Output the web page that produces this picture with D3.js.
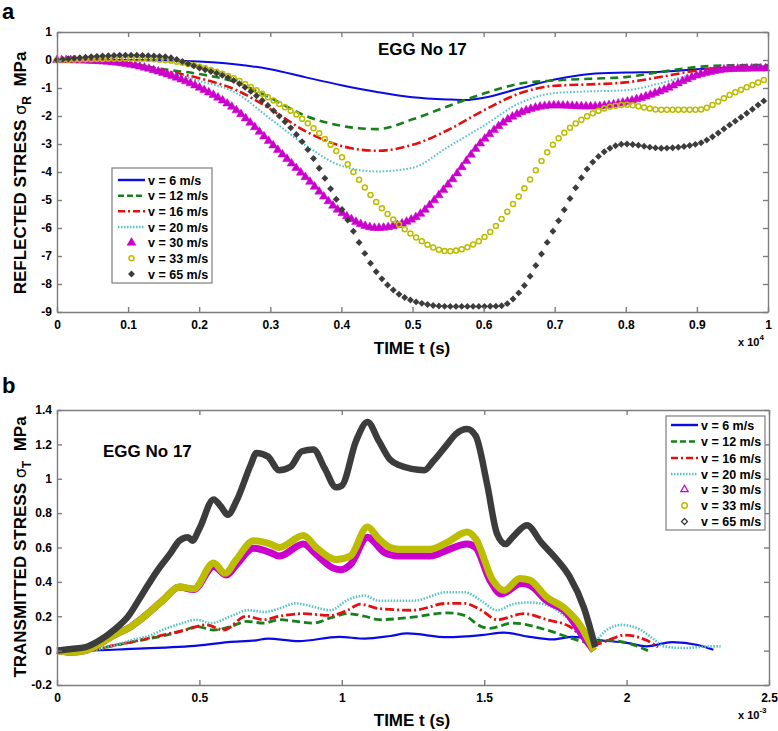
<!DOCTYPE html>
<html><head><meta charset="utf-8">
<script src="https://cdn.jsdelivr.net/npm/d3@7"></script>
<style>
body{margin:0;background:#fff}
svg{display:block}
text{font-family:"Liberation Sans",Arial,Helvetica,sans-serif;}
</style>
</head><body>
<svg id="c" width="778" height="731"></svg>
<script>
// ---------- labels ----------
const seriesLabels = ["v = 6 m/s","v = 12 m/s","v = 16 m/s","v = 20 m/s","v = 30 m/s","v = 33 m/s","v = 65 m/s"];
const aXTicks = [0,0.1,0.2,0.3,0.4,0.5,0.6,0.7,0.8,0.9,1];
const aYTicks = [1,0,-1,-2,-3,-4,-5,-6,-7,-8,-9];
const bXTicks = [0,0.5,1,1.5,2,2.5];
const bYTicks = [1.4,1.2,1,0.8,0.6,0.4,0.2,0,-0.2];

// ---------- panel a: reflected stress (t in 1e-4 s, MPa) ----------
const refl6  = [[0,0],[0.1,0],[0.2,-0.05],[0.25,-0.15],[0.3,-0.33],[0.35,-0.62],[0.4,-0.9],[0.45,-1.14],[0.5,-1.33],[0.55,-1.41],[0.575,-1.43],[0.6,-1.35],[0.65,-1.02],[0.7,-0.7],[0.75,-0.5],[0.8,-0.45],[0.85,-0.42],[0.9,-0.33],[0.95,-0.27],[1,-0.24]];
const refl12 = [[0,0],[0.05,-0.02],[0.1,-0.12],[0.15,-0.33],[0.2,-0.5],[0.25,-0.78],[0.3,-1.35],[0.35,-2.0],[0.4,-2.35],[0.45,-2.47],[0.5,-2.12],[0.55,-1.65],[0.6,-1.2],[0.65,-0.85],[0.7,-0.73],[0.75,-0.67],[0.8,-0.61],[0.85,-0.42],[0.9,-0.25],[0.95,-0.19],[1,-0.18]];
const refl16 = [[0,0],[0.05,-0.02],[0.1,-0.12],[0.15,-0.38],[0.2,-0.65],[0.25,-1.05],[0.3,-1.75],[0.35,-2.55],[0.4,-3.07],[0.45,-3.24],[0.5,-3.03],[0.55,-2.5],[0.6,-1.8],[0.65,-1.2],[0.7,-0.92],[0.75,-0.87],[0.8,-0.8],[0.85,-0.6],[0.9,-0.38],[0.95,-0.27],[1,-0.24]];
const refl20 = [[0,0],[0.05,-0.02],[0.1,-0.15],[0.15,-0.4],[0.2,-0.75],[0.25,-1.15],[0.3,-2.1],[0.35,-3.05],[0.4,-3.78],[0.45,-3.98],[0.5,-3.85],[0.55,-3.1],[0.6,-2.35],[0.65,-1.55],[0.7,-1.18],[0.75,-1.12],[0.8,-1.08],[0.85,-0.82],[0.9,-0.48],[0.95,-0.3],[1,-0.24]];
const refl30 = [[0,0],[0.05,-0.03],[0.1,-0.15],[0.15,-0.47],[0.2,-0.98],[0.25,-1.75],[0.3,-2.95],[0.35,-4.2],[0.4,-5.45],[0.45,-6.0],[0.5,-5.68],[0.55,-4.45],[0.6,-2.85],[0.65,-1.9],[0.7,-1.62],[0.75,-1.66],[0.8,-1.5],[0.85,-1.1],[0.9,-0.55],[0.95,-0.32],[1,-0.3]];
const refl33 = [[0,0],[0.05,0.03],[0.1,0.05],[0.15,0.0],[0.2,-0.24],[0.25,-0.67],[0.3,-1.38],[0.35,-2.2],[0.4,-3.45],[0.45,-5.1],[0.5,-6.25],[0.55,-6.83],[0.6,-6.35],[0.65,-4.85],[0.7,-2.95],[0.75,-1.95],[0.8,-1.6],[0.85,-1.78],[0.9,-1.78],[0.95,-1.2],[1,-0.65]];
const refl65 = [[0,0],[0.05,0.12],[0.1,0.17],[0.15,0.12],[0.2,-0.28],[0.25,-0.75],[0.3,-1.7],[0.35,-3.1],[0.4,-5.3],[0.45,-7.6],[0.5,-8.6],[0.55,-8.8],[0.6,-8.8],[0.625,-8.78],[0.65,-8.3],[0.7,-6.0],[0.75,-3.75],[0.8,-3.0],[0.85,-3.15],[0.9,-3.0],[0.95,-2.25],[1,-1.35]];

// ---------- panel b: transmitted stress (t in 1e-3 s, MPa) ----------
const trans6  = [[0,0],[0.1,0],[0.26,0.01],[0.5,0.03],[0.6,0.05],[0.7,0.06],[0.74,0.07],[0.85,0.055],[0.99,0.08],[1.08,0.07],[1.17,0.085],[1.23,0.1],[1.37,0.078],[1.49,0.09],[1.57,0.105],[1.66,0.08],[1.74,0.065],[1.81,0.08],[1.91,0.06],[2.0,0.045],[2.07,0.025],[2.16,0.05],[2.25,0.033],[2.305,0.005]];
const trans12 = [[0,0],[0.1,0],[0.2,0.03],[0.26,0.05],[0.37,0.085],[0.45,0.12],[0.49,0.14],[0.55,0.12],[0.61,0.14],[0.665,0.17],[0.725,0.16],[0.78,0.18],[0.84,0.17],[0.9,0.16],[0.96,0.19],[1.02,0.215],[1.08,0.2],[1.13,0.18],[1.25,0.195],[1.37,0.22],[1.43,0.205],[1.49,0.14],[1.52,0.13],[1.6,0.16],[1.72,0.12],[1.81,0.07],[1.86,0.05],[1.93,0.06],[1.99,0.05],[2.075,0.0]];
const trans16 = [[0,0],[0.1,0],[0.2,0.03],[0.26,0.05],[0.37,0.09],[0.45,0.12],[0.525,0.15],[0.585,0.12],[0.665,0.2],[0.725,0.18],[0.78,0.2],[0.865,0.215],[0.96,0.205],[1.02,0.235],[1.065,0.27],[1.13,0.245],[1.25,0.235],[1.37,0.275],[1.43,0.275],[1.49,0.235],[1.545,0.18],[1.64,0.215],[1.72,0.18],[1.8,0.14],[1.86,0.06],[1.895,0.04],[1.95,0.07],[1.99,0.09],[2.07,0.06],[2.11,0.02]];
const trans20 = [[0,0],[0.1,0],[0.2,0.03],[0.26,0.06],[0.33,0.09],[0.37,0.12],[0.44,0.16],[0.49,0.18],[0.54,0.16],[0.61,0.2],[0.67,0.235],[0.73,0.225],[0.78,0.245],[0.84,0.275],[0.9,0.255],[0.96,0.235],[1.02,0.295],[1.08,0.32],[1.13,0.29],[1.25,0.29],[1.37,0.34],[1.43,0.34],[1.49,0.29],[1.545,0.235],[1.6,0.27],[1.66,0.28],[1.72,0.265],[1.78,0.205],[1.84,0.12],[1.885,0.06],[1.93,0.12],[1.98,0.15],[2.05,0.12],[2.1,0.06],[2.13,0.025],[2.2,0.015],[2.3,0.025],[2.33,0.025]];
const trans30 = [[0,0],[0.05,-0.01],[0.1,0],[0.15,0.04],[0.2,0.09],[0.26,0.14],[0.3,0.19],[0.37,0.29],[0.43,0.37],[0.48,0.355],[0.55,0.49],[0.595,0.44],[0.63,0.5],[0.69,0.595],[0.75,0.57],[0.78,0.55],[0.865,0.62],[0.91,0.56],[0.97,0.48],[0.995,0.47],[1.03,0.5],[1.09,0.66],[1.15,0.57],[1.2,0.55],[1.31,0.55],[1.37,0.585],[1.44,0.62],[1.47,0.6],[1.52,0.41],[1.56,0.33],[1.63,0.39],[1.66,0.38],[1.72,0.29],[1.79,0.22],[1.84,0.1],[1.885,0.0]];
const trans33 = [[0,0],[0.05,-0.01],[0.1,0],[0.15,0.04],[0.2,0.09],[0.26,0.14],[0.3,0.19],[0.37,0.29],[0.43,0.37],[0.48,0.36],[0.55,0.51],[0.59,0.45],[0.63,0.53],[0.69,0.64],[0.75,0.62],[0.78,0.6],[0.865,0.67],[0.91,0.6],[0.98,0.53],[1.03,0.55],[1.09,0.72],[1.13,0.65],[1.17,0.6],[1.2,0.59],[1.31,0.59],[1.37,0.63],[1.44,0.69],[1.47,0.65],[1.53,0.41],[1.57,0.35],[1.625,0.42],[1.66,0.41],[1.72,0.31],[1.78,0.25],[1.84,0.14],[1.885,0.0]];
const trans65 = [[0,0],[0.05,0.01],[0.1,0.02],[0.15,0.06],[0.2,0.12],[0.25,0.2],[0.3,0.33],[0.35,0.46],[0.4,0.57],[0.43,0.64],[0.46,0.66],[0.475,0.64],[0.5,0.71],[0.55,0.88],[0.575,0.84],[0.6,0.79],[0.63,0.87],[0.68,1.08],[0.7,1.15],[0.74,1.13],[0.78,1.05],[0.82,1.07],[0.86,1.16],[0.9,1.17],[0.94,1.06],[0.98,0.95],[1.0,0.96],[1.05,1.22],[1.09,1.33],[1.13,1.22],[1.17,1.11],[1.2,1.08],[1.29,1.05],[1.32,1.1],[1.37,1.2],[1.4,1.26],[1.44,1.29],[1.47,1.25],[1.51,0.97],[1.545,0.68],[1.575,0.62],[1.6,0.66],[1.65,0.73],[1.7,0.63],[1.755,0.53],[1.8,0.43],[1.85,0.25],[1.89,0.02]];

// ---------- styles ----------
const COL = {b:"#0a0ae6", g:"#16801c", r:"#e41010", c:"#55c2c8", m:"#cc00cc", y:"#bcbc00", k:"#3c3c3c"};
const AXC = "#7d7d7d";

const svg = d3.select("#c");
const FONT = '"Liberation Sans",Arial,sans-serif';

function sampleAlong(node, x0, x1, step){
  const L = node.getTotalLength();
  const pts = [];
  for(let l=0;l<=L;l+=0.4) pts.push(node.getPointAtLength(l));
  pts.push(node.getPointAtLength(L));
  const out=[]; let j=0;
  for(let x=x0; x<=x1+0.01; x+=step){
    while(j<pts.length-2 && pts[j+1].x < x) j++;
    const a=pts[j], b=pts[j+1]||pts[j];
    let f = (b.x===a.x)?0:(x-a.x)/(b.x-a.x); f=Math.max(0,Math.min(1,f));
    out.push([x, a.y+(b.y-a.y)*f]);
  }
  return out;
}

function drawAxes(g, x, y, xt, yt, xfmt, yfmt){
  const [l,r]=x.range(), [b,t]=y.range();
  const ax = g.append("g").attr("transform",`translate(0,${b})`)
    .call(d3.axisBottom(x).tickValues(xt).tickFormat(xfmt).tickSizeInner(-5).tickSizeOuter(0).tickPadding(8));
  const at = g.append("g").attr("transform",`translate(0,${t})`)
    .call(d3.axisTop(x).tickValues(xt).tickFormat("").tickSizeInner(-5).tickSizeOuter(0));
  const al = g.append("g").attr("transform",`translate(${l},0)`)
    .call(d3.axisLeft(y).tickValues(yt).tickFormat(yfmt).tickSizeInner(-5).tickSizeOuter(0).tickPadding(5));
  const ar = g.append("g").attr("transform",`translate(${r},0)`)
    .call(d3.axisRight(y).tickValues(yt).tickFormat("").tickSizeInner(-5).tickSizeOuter(0));
  [ax,at,al,ar].forEach(a=>{
    a.selectAll("path,line").attr("stroke",AXC).attr("stroke-width",1.4);
    a.selectAll("text").attr("fill","#000").attr("font-weight","bold").attr("font-size",12).attr("font-family",FONT);
  });
}

const fmt = d => (Math.round(d*10)/10).toString();

// ================= PANEL A =================
const xA = d3.scaleLinear().domain([0,1]).range([57,768]);
const yA = d3.scaleLinear().domain([-9,1]).range([312,32]);
const gA = svg.append("g");
const lineA = d3.line().x(d=>xA(d[0])).y(d=>yA(d[1])).curve(d3.curveMonotoneX);

gA.append("path").datum(refl6).attr("d",lineA).attr("fill","none").attr("stroke",COL.b).attr("stroke-width",2);
gA.append("path").datum(refl12).attr("d",lineA).attr("fill","none").attr("stroke",COL.g).attr("stroke-width",2.6).attr("stroke-dasharray","8,5");
gA.append("path").datum(refl16).attr("d",lineA).attr("fill","none").attr("stroke",COL.r).attr("stroke-width",2.6).attr("stroke-dasharray","9,3,2,3");
gA.append("path").datum(refl20).attr("d",lineA).attr("fill","none").attr("stroke",COL.c).attr("stroke-width",2).attr("stroke-dasharray","1.6,1.8");

function markers(g, data, lineGen, x0, x1, step, kind, color){
  const p = g.append("path").datum(data).attr("d",lineGen).attr("fill","none").attr("stroke","none");
  const pts = sampleAlong(p.node(), x0, x1, step);
  const mg = g.append("g");
  if(kind==="tri"){
    mg.selectAll("path").data(pts).join("path")
      .attr("d", d3.symbol(d3.symbolTriangle, 34)())
      .attr("transform", d=>`translate(${d[0]},${d[1]})`).attr("fill",color).attr("stroke",color).attr("stroke-width",0.5);
  } else if(kind==="circ"){
    mg.selectAll("circle").data(pts).join("circle")
      .attr("cx",d=>d[0]).attr("cy",d=>d[1]).attr("r",2.5).attr("fill","none").attr("stroke",color).attr("stroke-width",1.5);
  } else {
    mg.selectAll("path").data(pts).join("path")
      .attr("d", d3.symbol(d3.symbolSquare, 24)())
      .attr("transform", d=>`translate(${d[0]},${d[1]}) rotate(45)`).attr("fill",color);
  }
}
markers(gA, refl30, lineA, xA(0), xA(1), 4.6, "tri", COL.m);
markers(gA, refl33, lineA, xA(0), xA(1), 5.7, "circ", COL.y);
markers(gA, refl65, lineA, xA(0), xA(1), 5.7, "dia", COL.k);

drawAxes(gA, xA, yA, aXTicks, aYTicks, fmt, d=>d.toString());

// legend
function legend(g, x0, y0, w, h, rowY, sx0, sx1, tx, hollow){
  g.append("rect").attr("x",x0).attr("y",y0).attr("width",w).attr("height",h).attr("fill","#fff").attr("stroke",AXC).attr("stroke-width",1.2);
  const styles = [
    {c:COL.b, dash:null, w:2.4},{c:COL.g, dash:"6,3", w:2.6},{c:COL.r, dash:"7,3,2,3", w:2.6},{c:COL.c, dash:"1.5,1.5", w:2.4}
  ];
  seriesLabels.forEach((lab,i)=>{
    const yy = rowY[i];
    if(i<4){
      const s=styles[i];
      g.append("line").attr("x1",sx0).attr("x2",sx1).attr("y1",yy).attr("y2",yy).attr("stroke",s.c).attr("stroke-width",s.w).attr("stroke-dasharray",s.dash);
    } else {
      const mx=(sx0+sx1)/2;
      if(i===4) g.append("path").attr("d",d3.symbol(d3.symbolTriangle, hollow?24:34)()).attr("transform",`translate(${mx},${yy})`)
        .attr("fill",hollow?"none":COL.m).attr("stroke",COL.m).attr("stroke-width",hollow?1.2:0.5);
      if(i===5) g.append("circle").attr("cx",mx).attr("cy",yy).attr("r",hollow?2.8:2.5).attr("fill","none").attr("stroke",COL.y).attr("stroke-width",1.5);
      if(i===6) g.append("path").attr("d",d3.symbol(d3.symbolSquare, hollow?18:24)()).attr("transform",`translate(${mx},${yy}) rotate(45)`)
        .attr("fill",hollow?"none":COL.k).attr("stroke",COL.k).attr("stroke-width",hollow?1.3:0);
    }
    g.append("text").attr("x",tx).attr("y",yy+4.5).text(lab).attr("font-weight","bold").attr("font-size",12.5).attr("font-family",FONT).attr("fill","#000");
  });
}
legend(gA, 112, 168, 100, 115, [180,195.7,211.3,227,242.7,258.3,274], 118, 145, 148, false);

gA.append("text").attr("x",378).attr("y",55).text("EGG No 17").attr("font-weight","bold").attr("font-size",17).attr("font-family",FONT);
gA.append("text").attr("x",412).attr("y",354).attr("text-anchor","middle").text("TIME t (s)").attr("font-weight","bold").attr("font-size",17).attr("font-family",FONT);
const xa = gA.append("text").attr("x",738).attr("y",346).attr("font-weight","bold").attr("font-size",11).attr("font-family",FONT);
xa.append("tspan").text("x 10");
xa.append("tspan").attr("dy",-6).attr("font-size",8).text("4");

function ylab(g, x, y, pre, sub){
  const t = g.append("text").attr("transform",`translate(${x},${y}) rotate(-90)`).attr("text-anchor","middle")
    .attr("font-weight","bold").attr("font-size",17).attr("font-family",FONT);
  t.append("tspan").text(pre);
  t.append("tspan").attr("font-weight","normal").attr("font-family",'"DejaVu Sans",sans-serif').attr("font-size",16).text("σ");
  t.append("tspan").attr("dy",5).attr("font-size",12).text(sub);
  t.append("tspan").attr("dy",-5).text("\u00a0\u00a0MPa");
}
ylab(gA, 26, 173, "REFLECTED STRESS ", "R");
svg.append("text").attr("x",2).attr("y",19).text("a").attr("font-weight","bold").attr("font-size",22).attr("font-family",FONT);

// ================= PANEL B =================
const xB = d3.scaleLinear().domain([0,2.5]).range([57,769]);
const yB = d3.scaleLinear().domain([-0.2,1.4]).range([685,410]);
const gB = svg.append("g");
const lineB = d3.line().x(d=>xB(d[0])).y(d=>yB(d[1])).curve(d3.curveMonotoneX);

gB.append("path").datum(trans6).attr("d",lineB).attr("fill","none").attr("stroke",COL.b).attr("stroke-width",2.2);
gB.append("path").datum(trans12).attr("d",lineB).attr("fill","none").attr("stroke",COL.g).attr("stroke-width",2.8).attr("stroke-dasharray","8,4");
gB.append("path").datum(trans16).attr("d",lineB).attr("fill","none").attr("stroke",COL.r).attr("stroke-width",2.8).attr("stroke-dasharray","9,3,2,3");
gB.append("path").datum(trans20).attr("d",lineB).attr("fill","none").attr("stroke",COL.c).attr("stroke-width",2.6).attr("stroke-dasharray","1.5,1.5");
gB.append("path").datum(trans30).attr("d",lineB).attr("fill","none").attr("stroke",COL.m).attr("stroke-width",7).attr("stroke-linejoin","round");
gB.append("path").datum(trans33).attr("d",lineB).attr("fill","none").attr("stroke",COL.y).attr("stroke-width",7).attr("stroke-linejoin","round");
gB.append("path").datum(trans65).attr("d",lineB).attr("fill","none").attr("stroke",COL.k).attr("stroke-width",6.5).attr("stroke-linejoin","round");

drawAxes(gB, xB, yB, bXTicks, bYTicks, d=>d.toString(), d=>d.toString());
legend(gB, 666, 416, 99, 114, [425,441.5,458,474,489.5,505.5,521.5], 671, 698, 701, true);

gB.append("text").attr("x",103).attr("y",457).text("EGG No 17").attr("font-weight","bold").attr("font-size",17).attr("font-family",FONT);
gB.append("text").attr("x",412).attr("y",726).attr("text-anchor","middle").text("TIME t (s)").attr("font-weight","bold").attr("font-size",17).attr("font-family",FONT);
const xb = gB.append("text").attr("x",738).attr("y",719).attr("font-weight","bold").attr("font-size",11).attr("font-family",FONT);
xb.append("tspan").text("x 10");
xb.append("tspan").attr("dy",-6).attr("font-size",8).text("-3");
ylab(gB, 26, 547, "TRANSMITTED STRESS ", "T");
svg.append("text").attr("x",2).attr("y",393).text("b").attr("font-weight","bold").attr("font-size",22).attr("font-family",FONT);
</script>
</body></html>
